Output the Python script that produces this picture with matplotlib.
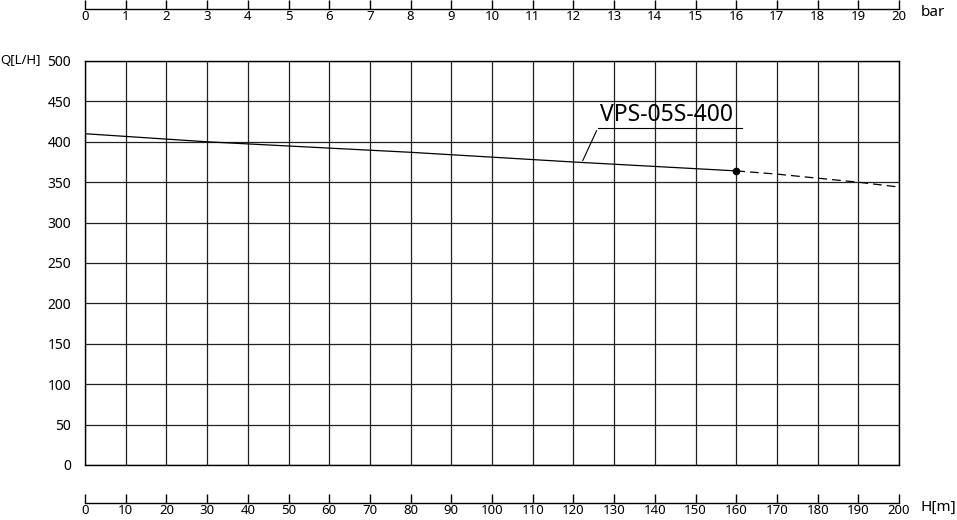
import numpy as np
import matplotlib
matplotlib.use("Agg")
import matplotlib.pyplot as plt

plt.rcParams['font.family'] = ['Noto Sans', 'DejaVu Sans']

# pump curve VPS-05S-400
head_solid = [0, 30, 80, 120, 160]
flow_solid = [410, 400, 387, 375, 364]
head_dash = [160, 170, 180, 190, 200]
flow_dash = [364, 360, 355, 350, 344]

h_ticks = list(range(0, 201, 10))
bar_ticks = list(range(0, 21))
q_ticks = list(range(0, 501, 50))
model_name = "VPS-05S-400"

W, H = 957, 520
fig = plt.figure(figsize=(W / 100, H / 100), dpi=100)

def fx(px):
    return px / W

def fy(py):
    return 1 - py / H

left, right, top, bottom = 85, 899, 61, 465
ax = fig.add_axes([fx(left), fy(bottom), fx(right - left), (bottom - top) / H])
ax.set_xlim(0, 200)
ax.set_ylim(0, 500)
ax.set_xticks(h_ticks)
ax.set_yticks(q_ticks)
ax.grid(True, color='#222222', linewidth=0.9)
ax.tick_params(axis='x', length=0, labelbottom=False)
ax.tick_params(axis='y', length=0, labelsize=10, pad=10)
for s in ax.spines.values():
    s.set_linewidth(1.0)
    s.set_color('black')

ax.plot(head_solid, flow_solid, color='black', linewidth=0.9, zorder=3)
ax.plot(head_dash, flow_dash, color='black', linewidth=0.9, linestyle=(0, (7, 4)), zorder=3)
ax.plot([head_solid[-1]], [flow_solid[-1]], 'o', color='black', markersize=4.5, zorder=4)

# label with underline and leader
ax.annotate('', xy=(122, 373.5), xytext=(126, 417),
            arrowprops=dict(arrowstyle='-', color='black', linewidth=0.8))
ax.plot([126, 161.5], [417, 417], color='black', linewidth=0.8, clip_on=False)
ax.text(126.5, 418.5, model_name, fontsize=16.5, ha='left', va='bottom')

fig.text(fx(0), fy(60), 'Q[L/H]', fontsize=9.5, ha='left', va='center')

def scale_axis(py, lim, ticks, unit):
    a = fig.add_axes([fx(left), fy(py), fx(right - left), 0.0001])
    a.set_xlim(*lim)
    a.set_xticks(ticks)
    a.set_yticks([])
    for k in ['top', 'left', 'right']:
        a.spines[k].set_visible(False)
    a.spines['bottom'].set_linewidth(1.0)
    a.tick_params(axis='x', direction='in', length=6.5, width=1.0,
                  labelsize=9.5, pad=1)
    a.patch.set_visible(False)
    fig.text(fx(921), fy(py + 4), unit, fontsize=11, ha='left', va='center')
    return a

scale_axis(9, (0, 20), bar_ticks, 'bar')
scale_axis(503, (0, 200), h_ticks, 'H[m]')

fig.savefig('out.png', dpi=100)
